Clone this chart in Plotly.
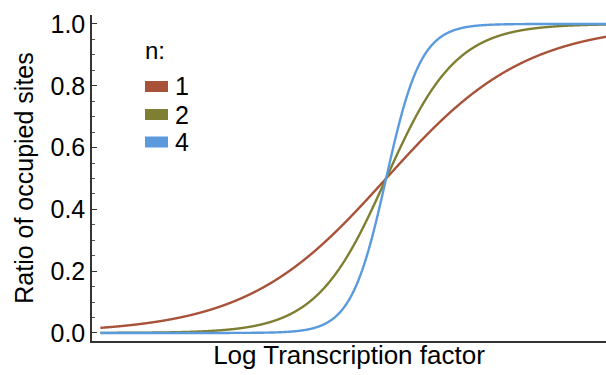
import numpy as np
import plotly.graph_objects as go

# Hill coefficients shown in the legend
hill_n = [1, 2, 4]
series_labels = ["1", "2", "4"]
series_colors = ["#A8523A", "#7F7F33", "#5B9BDD"]

# log transcription factor axis (dimensionless, no tick labels)
x_log = np.linspace(-4.08, 3.3, 1200)
y_ticks = [0.0, 0.2, 0.4, 0.6, 0.8, 1.0]
y_ticklabels = ["0.0", "0.2", "0.4", "0.6", "0.8", "1.0"]

FONT = "Liberation Sans, Arial, Helvetica, sans-serif"

fig = go.Figure()
for n, lab, col in zip(hill_n, series_labels, series_colors):
    occ = 1.0 / (1.0 + np.exp(-n * x_log))
    fig.add_trace(go.Scatter(x=x_log, y=occ, mode="lines", name=lab,
                             line=dict(color=col, width=2.4, simplify=False, shape="spline",
                                       smoothing=0.6),
                             showlegend=False))

# plot area in pixels: x 92..606, y 15..341
def px_x(p):
    return (p - 92) / 514.0

def px_y(p):
    return (341 - p) / 326.0

shapes = []
annotations = []
legend_rows = [86.5, 114.5, 142.0]
for row, lab, col in zip(legend_rows, series_labels, series_colors):
    shapes.append(dict(type="rect", xref="paper", yref="paper",
                       x0=px_x(145), x1=px_x(168), y0=px_y(row + 5.5), y1=px_y(row - 5.5),
                       fillcolor=col, line=dict(width=0)))
    annotations.append(dict(xref="paper", yref="paper", x=px_x(173), y=px_y(row),
                            text=lab, showarrow=False, xanchor="left", yanchor="middle",
                            font=dict(family=FONT, size=25, color="black")))
annotations.append(dict(xref="paper", yref="paper", x=px_x(143), y=px_y(50),
                        text="n:", showarrow=False, xanchor="left", yanchor="middle",
                        font=dict(family=FONT, size=24, color="black")))

fig.update_layout(
    width=606, height=375,
    margin=dict(l=92, r=0, t=15, b=34),
    paper_bgcolor="white", plot_bgcolor="white",
    font=dict(family=FONT, size=24, color="black"),
    shapes=shapes, annotations=annotations,
    xaxis=dict(range=[-4.2, 3.14], showline=True, linecolor="#333333", linewidth=1.5,
               showgrid=False, zeroline=False, ticks="", showticklabels=False,
               title=dict(text="Log Transcription factor", standoff=4,
                          font=dict(family=FONT, size=26, color="black"))),
    yaxis=dict(range=[-0.026, 1.029], showline=True, linecolor="#333333", linewidth=1.5,
               showgrid=False, zeroline=False, ticks="inside", ticklen=5, tickwidth=1,
               tickcolor="#333333", tickvals=y_ticks, ticktext=y_ticklabels,
               tickfont=dict(family=FONT, size=25, color="black"),
               minor=dict(ticks="inside", ticklen=3, tickcolor="#555555", dtick=0.05, tick0=0,
                          showgrid=False),
               title=dict(text="Ratio of occupied sites", standoff=10,
                          font=dict(family=FONT, size=25, color="black"))),
)

fig.write_html("out.html")
